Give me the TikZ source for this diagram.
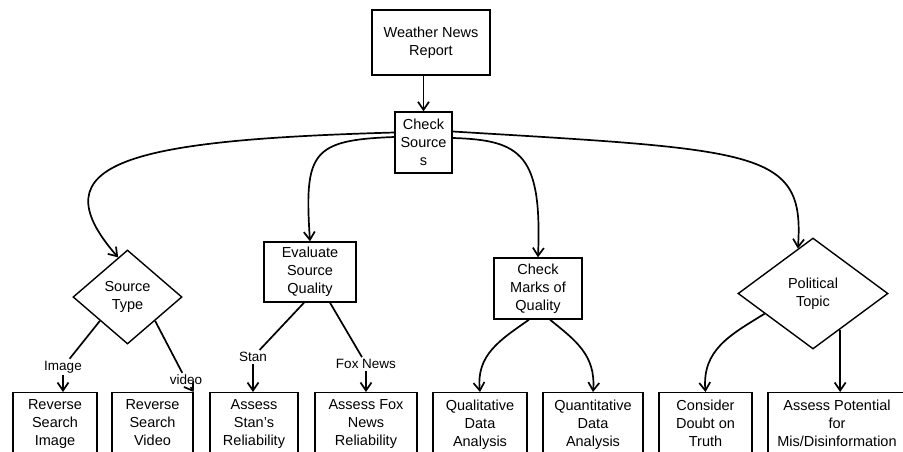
\documentclass[tikz,border=0pt]{standalone}
\usepackage{fontspec}
\setmainfont{Liberation Sans}
\usetikzlibrary{shapes.geometric,arrows.meta,calc}
\tikzset{
  box/.style={draw, line width=1.4pt, inner sep=0pt, align=center,
    font=\fontsize{14.5}{18}\selectfont},
  leaf/.style={box, anchor=north, inner ysep=7pt, text depth=45pt},
  choice/.style={box, diamond},
  lbl/.style={inner sep=2pt, font=\fontsize{13.5}{16}\selectfont},
  link/.style={line width=1.7pt},
  arr/.style={link, -{Straight Barb[length=8pt,width=11pt]}}
}
\begin{document}
\begin{tikzpicture}[x=1pt,y=-1pt]
\useasboundingbox (0,0) rectangle (903,451);
\clip (0,0) rectangle (903,451);
% upper part
\node (report) [box, minimum width=118, minimum height=65] at (431,42.5) {Weather News\\Report};
\node (src) [box, minimum width=57, minimum height=61] at (423.5,142.5) {Check\\Source\\s};
\node (st) [choice, minimum width=109, minimum height=94] at (127.5,297) {Source\\Type};
\node (evalq) [box, minimum width=92, minimum height=60] at (310,272) {Evaluate\\Source\\Quality};
\node (marks) [box, minimum width=88, minimum height=61] at (538,288.5) {Check\\Marks of\\Quality};
\node (pol) [choice, minimum width=150, minimum height=111] at (813,293.5) {Political\\Topic};
% bottom row
\node (rsi) [leaf, minimum width=84] at (55,392) {Reverse\\Search\\Image};
\node (rsv) [leaf, minimum width=81] at (152.5,392) {Reverse\\Search\\Video};
\node (stan) [leaf, minimum width=88] at (254,392) {Assess\\Stan's\\Reliability};
\node (fox) [leaf, minimum width=102] at (366,392) {Assess Fox\\News\\Reliability};
\node (qual) [leaf, minimum width=94] at (480,392) {Qualitative\\Data\\Analysis};
\node (quant) [leaf, minimum width=100] at (593,392) {Quantitative\\Data\\Analysis};
\node (doubt) [leaf, minimum width=93] at (705.5,392) {Consider\\Doubt on\\Truth};
\node (pot) [leaf, minimum width=138] at (837,392) {Assess Potential\\for\\Mis/Disinformation};
% edge labels
\node (img) [lbl] at (63,367) {Image};
\node (vid) [lbl] at (186,380) {video};
\node (stanl) [lbl] at (253,357) {Stan};
\node (foxl) [lbl] at (366,364) {Fox News};
% connectors
\draw [arr] (report.south -| src) -- (src);
\draw [arr] ([yshift=10pt]src.west) .. controls (130,140) and (35,162) .. ($(st.north)!0.17!(st.west)$);
\draw [arr] ([yshift=5.5pt]src.west) .. controls (312,140) and (304,152) .. (evalq.north);
\draw [arr] ([yshift=4.5pt]src.east) .. controls (522,140) and (542,155) .. (marks.north);
\draw [arr] ([yshift=11pt]src.east) .. controls (760,150) and (805,150) .. ($(pol.north)!0.2!(pol.west)$);
\draw [link] (st.south west) -- (img);
\draw [arr] (img) -- (img |- rsi.north);
\draw [link] (st.south east) -- (vid);
\draw [arr] (vid) -- (rsv.north east);
\draw [link] ([xshift=-6pt]evalq.south) -- (stanl);
\draw [arr] (stanl) -- (stanl |- stan.north);
\draw [link] ([xshift=20pt]evalq.south) -- (foxl);
\draw [arr] (foxl) -- (fox.north);
\draw [arr] ([xshift=-9pt]marks.south) .. controls (500,340) and (476,355) .. (qual.north);
\draw [arr] ([xshift=12pt]marks.south) .. controls (575,340) and (596,355) .. (quant.north);
\draw [arr] ($(pol.west)!0.36!(pol.south)$) .. controls (730,335) and (702,350) .. (doubt.north);
\draw [arr] (pol.-53) -- (pol.-53 |- pot.north);
\end{tikzpicture}
\end{document}
